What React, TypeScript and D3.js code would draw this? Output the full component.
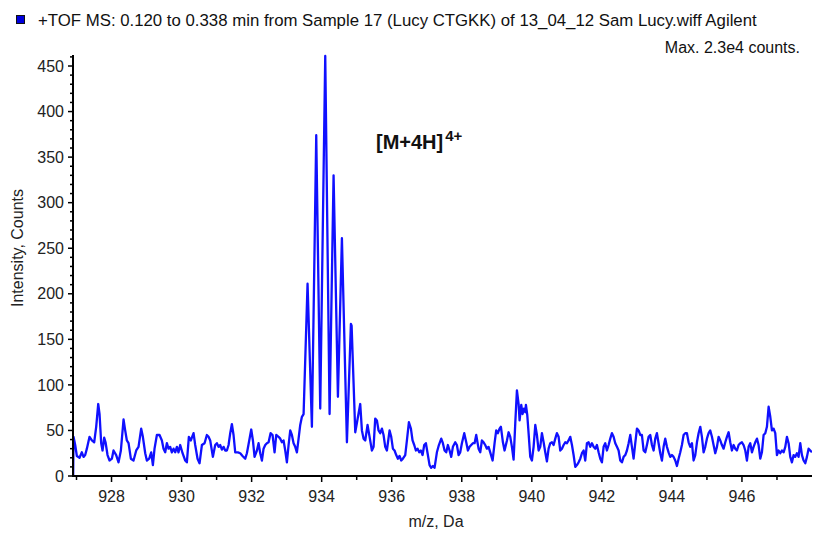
import React from "react";
import * as d3 from "d3";

const TITLE = "+TOF MS: 0.120 to 0.338 min from Sample 17 (Lucy CTGKK) of 13_04_12 Sam Lucy.wiff Agilent";
const MAX_LABEL = "Max. 2.3e4 counts.";
const X_LABEL = "m/z, Da";
const Y_LABEL = "Intensity, Counts";

const X_DOMAIN = [926.9, 948.0];
const Y_DOMAIN = [0, 462];
const X_MAJOR = [928, 930, 932, 934, 936, 938, 940, 942, 944, 946];
const X_MINOR = [927, 929, 931, 933, 935, 937, 939, 941, 943, 945, 947];
const Y_MAJOR = [0, 50, 100, 150, 200, 250, 300, 350, 400, 450];

const MZ = [
  926.905, 926.915, 926.963, 927.010, 927.086, 927.153, 927.201, 927.248, 927.296, 927.372,
  927.439, 927.505, 927.562, 927.620, 927.658, 927.705, 927.743, 927.791, 927.829, 927.886,
  927.943, 928.010, 928.057, 928.133, 928.200, 928.267, 928.343, 928.390, 928.438, 928.486,
  928.552, 928.628, 928.705, 928.771, 928.847, 928.895, 928.962, 929.009, 929.076, 929.133,
  929.181, 929.228, 929.295, 929.371, 929.438, 929.485, 929.533, 929.580, 929.628, 929.675,
  929.723, 929.771, 929.818, 929.866, 929.913, 929.961, 930.028, 930.104, 930.151, 930.208,
  930.265, 930.342, 930.389, 930.456, 930.513, 930.580, 930.656, 930.722, 930.770, 930.818,
  930.894, 930.960, 931.008, 931.056,
  931.104, 931.151, 931.199, 931.247, 931.294, 931.342, 931.389, 931.437, 931.484, 931.532,
  931.608, 931.675, 931.741, 931.818, 931.865, 931.932, 931.989, 932.037, 932.084, 932.151,
  932.198, 932.246, 932.294, 932.341, 932.389, 932.436, 932.484, 932.541, 932.598, 932.655,
  932.703, 932.769, 932.817, 932.865, 932.912, 932.960, 933.007, 933.055, 933.103, 933.150,
  933.198, 933.245, 933.293, 933.341, 933.388, 933.436, 933.484,
  933.597, 933.721, 933.845, 933.959, 934.102, 934.226, 934.340, 934.464, 934.578, 934.721,
  934.835, 934.855, 934.959,
  935.101, 935.149, 935.196, 935.244, 935.310, 935.368, 935.434, 935.482, 935.529, 935.577,
  935.624, 935.672, 935.720, 935.767, 935.815, 935.862, 935.939, 935.986, 936.034, 936.081,
  936.129, 936.177, 936.224, 936.272, 936.319, 936.386, 936.434, 936.491, 936.548, 936.595,
  936.643, 936.690, 936.738, 936.786, 936.833, 936.881, 936.928, 936.976, 937.024, 937.081,
  937.128, 937.176, 937.223, 937.290, 937.347, 937.414, 937.461, 937.509, 937.557, 937.604,
  937.652, 937.699, 937.747, 937.814, 937.861, 937.909, 937.956, 938.004, 938.071, 938.128,
  938.175, 938.223, 938.270, 938.318, 938.366, 938.413, 938.480, 938.528, 938.575, 938.623,
  938.670, 938.718, 938.765, 938.813, 938.880, 938.937, 938.984, 939.032, 939.079, 939.118,
  939.175, 939.222,
  939.290, 939.337, 939.385, 939.432, 939.480, 939.528, 939.575, 939.623, 939.651, 939.699,
  939.737, 939.775, 939.813, 939.832, 939.870, 939.908, 939.956, 940.003, 940.051, 940.099,
  940.146, 940.194, 940.241, 940.289, 940.337, 940.384, 940.432, 940.479, 940.527, 940.575,
  940.622, 940.670, 940.717, 940.765, 940.812, 940.860, 940.908, 940.955, 941.003, 941.050,
  941.098, 941.146, 941.193, 941.241, 941.288, 941.336, 941.384, 941.431, 941.479, 941.526,
  941.574, 941.622, 941.669, 941.717, 941.764, 941.812, 941.859, 941.907, 941.955, 942.002,
  942.050, 942.097, 942.145, 942.193, 942.240, 942.288, 942.335, 942.383, 942.431, 942.478,
  942.526, 942.573, 942.621, 942.669, 942.716, 942.764, 942.811, 942.859, 942.906, 942.954,
  943.002, 943.049, 943.097, 943.144, 943.192, 943.240, 943.287, 943.335,
  943.382, 943.430, 943.477, 943.525, 943.572, 943.620, 943.668, 943.715, 943.763, 943.810,
  943.858, 943.905, 943.953, 944.001, 944.048, 944.096, 944.143, 944.191, 944.239, 944.286,
  944.334, 944.381, 944.429, 944.477, 944.524, 944.572, 944.619, 944.667, 944.715, 944.762,
  944.810, 944.857, 944.905, 944.952, 945.000, 945.048, 945.095, 945.143, 945.190, 945.238,
  945.286, 945.333, 945.381, 945.428, 945.476, 945.524, 945.571, 945.619, 945.666, 945.714,
  945.761, 945.809, 945.857, 945.904, 945.952, 945.999, 946.047, 946.095, 946.142, 946.190,
  946.237, 946.285, 946.332, 946.380, 946.428, 946.475, 946.523, 946.570, 946.618, 946.666,
  946.713, 946.761, 946.809, 946.856, 946.904, 946.951, 946.999, 947.046, 947.094, 947.142,
  947.189, 947.237, 947.284, 947.332, 947.380, 947.427, 947.475, 947.522, 947.570, 947.617,
  947.665, 947.713, 947.760, 947.808, 947.855, 947.903, 947.951, 947.998,
];

const INTENSITY = [
  0, 43, 34, 22, 20, 26, 21, 23, 30, 43,
  39, 37, 54, 79, 68, 36, 28, 42, 37, 23,
  17, 19, 28, 23, 15, 28, 62, 50, 39, 36,
  19, 17, 28, 32, 52, 43, 25, 17, 19, 26,
  12, 30, 45, 45, 39, 30, 26, 36, 30, 32,
  26, 30, 26, 32, 26, 34, 25, 17, 15, 43,
  39, 47, 34, 19, 14, 34, 36, 45, 43, 39,
  21, 34, 36, 32,
  34, 29, 32, 28, 28, 34, 47, 57, 45, 26,
  26, 25, 22, 19, 25, 39, 51, 39, 21, 28,
  36, 25, 17, 30, 34, 36, 37, 47, 45, 26,
  45, 43, 41, 37, 39, 28, 15, 34, 50, 45,
  36, 32, 26, 41, 56, 65, 68,
  211, 54, 374, 74, 461, 68, 330, 87, 261, 37,
  167, 165, 48,
  79, 50, 41, 39, 56, 43, 28, 32, 63, 61,
  50, 47, 52, 45, 32, 28, 50, 43, 30, 28,
  23, 19, 22, 17, 19, 23, 39, 59, 52, 39,
  34, 28, 30, 26, 28, 23, 34, 36, 25, 12,
  9, 11, 9, 26, 34, 41, 36, 28, 26, 34,
  28, 21, 32, 37, 34, 23, 26, 36, 47, 37,
  28, 32, 34, 36, 36, 45, 30, 26, 39, 37,
  34, 30, 32, 26, 17, 36, 50, 47, 52, 54,
  37, 28,
  39, 48, 43, 32, 18, 58, 94, 79, 61, 78,
  68, 74, 70, 78, 67, 47, 21, 17, 32, 56,
  45, 28, 32, 47, 37, 26, 16, 30, 36, 37,
  34, 41, 47, 43, 28, 30, 34, 37, 36, 39,
  43, 34, 23, 10, 12, 15, 19, 25, 28, 17,
  36, 37, 32, 36, 32, 30, 34, 26, 19, 15,
  32, 36, 28, 34, 41, 47, 43, 36, 32, 28,
  17, 15, 21, 23, 28, 36, 45, 32, 19, 36,
  52, 50, 45, 45, 28, 26, 34, 43,
  45, 34, 28, 41, 47, 36, 25, 17, 32, 41,
  32, 26, 21, 23, 21, 17, 11, 19, 26, 34,
  45, 47, 47, 37, 32, 36, 17, 23, 37, 47,
  54, 43, 26, 32, 41, 47, 50, 43, 34, 25,
  32, 43, 39, 34, 30, 37, 43, 48, 37, 28,
  34, 30, 28, 34, 36, 37, 34, 28, 17, 32,
  36, 26, 32, 37, 41, 34, 19, 26, 45, 47,
  54, 76, 65, 50, 52, 47, 23, 28, 25, 28,
  26, 32, 43, 36, 21, 15, 23, 21, 25, 21,
  36, 23, 17, 14, 21, 30, 28, 26,
];

const W = 813;
const H = 533;
const LEFT = 73;
const RIGHT = 812;
const BOTTOM = 476;
const FONT = "'Liberation Sans', Arial, sans-serif";

export default function App() {
  const x = d3.scaleLinear().domain(X_DOMAIN).range([LEFT, RIGHT]);
  const y = d3.scaleLinear().domain(Y_DOMAIN).range([BOTTOM, BOTTOM - 462 * 0.9111]);
  const points: [number, number][] = MZ.map((m, i) => [m, INTENSITY[i]]);
  const line = d3
    .line<[number, number]>()
    .x((d) => x(d[0]))
    .y((d) => y(d[1]));
  const yMinor = d3.range(10, 461, 10).filter((v) => v % 50 !== 0);
  const yTop = y(Y_DOMAIN[1]);

  return (
    <div style={{ position: "absolute", left: 0, top: 0 }}>
      <svg width={W} height={H} style={{ display: "block", background: "#fff" }} fontFamily={FONT}>
        <defs>
          <clipPath id="plot">
            <rect x={LEFT} y={yTop - 2} width={RIGHT - LEFT} height={BOTTOM - yTop + 2} />
          </clipPath>
        </defs>
        {/* header */}
        <rect x={16.5} y={15.5} width={8} height={8} fill="#0000dd" stroke="#111" strokeWidth={1} />
        <text x={38} y={26} fontSize={16.8} fill="#111">{TITLE}</text>
        <text x={800} y={53} fontSize={16} fill="#111" textAnchor="end">{MAX_LABEL}</text>

        {/* line */}
        <path
          d={line(points) || ""}
          fill="none"
          stroke="#1010ff"
          strokeWidth={2.3}
          strokeLinejoin="round"
          clipPath="url(#plot)"
        />

        {/* y axis */}
        <line x1={LEFT} x2={LEFT} y1={yTop} y2={BOTTOM + 1} stroke="#000" strokeWidth={2} />
        {Y_MAJOR.map((v) => (
          <g key={"ym" + v}>
            <line x1={LEFT - 5} x2={LEFT} y1={y(v)} y2={y(v)} stroke="#000" strokeWidth={1.5} />
            <text x={64} y={y(v) + 5.7} fontSize={16} textAnchor="end" fill="#222">{v}</text>
          </g>
        ))}
        {yMinor.map((v) => (
          <line key={"yn" + v} x1={LEFT - 3} x2={LEFT} y1={y(v)} y2={y(v)} stroke="#000" strokeWidth={1.5} />
        ))}
        <text
          transform={`translate(23,248) rotate(-90)`}
          fontSize={16}
          textAnchor="middle"
          fill="#222"
        >
          {Y_LABEL}
        </text>

        {/* x axis */}
        <line x1={LEFT - 1} x2={RIGHT} y1={BOTTOM} y2={BOTTOM} stroke="#000" strokeWidth={2} />
        {X_MAJOR.map((v) => (
          <g key={"xm" + v}>
            <line x1={x(v)} x2={x(v)} y1={BOTTOM} y2={BOTTOM + 6} stroke="#000" strokeWidth={1.5} />
            <text x={x(v)} y={502} fontSize={16} textAnchor="middle" fill="#222">{v}</text>
          </g>
        ))}
        {X_MINOR.map((v) => (
          <line key={"xn" + v} x1={x(v)} x2={x(v)} y1={BOTTOM} y2={BOTTOM + 4} stroke="#000" strokeWidth={1.5} />
        ))}
        <text x={436} y={527} fontSize={16} textAnchor="middle" fill="#222">{X_LABEL}</text>

        {/* annotation */}
        <text x={376} y={149} fontSize={20} fontWeight="bold" fill="#111">
          [M+4H]
          <tspan dx={2} dy={-8.5} fontSize={15}>4+</tspan>
        </text>
      </svg>
    </div>
  );
}
